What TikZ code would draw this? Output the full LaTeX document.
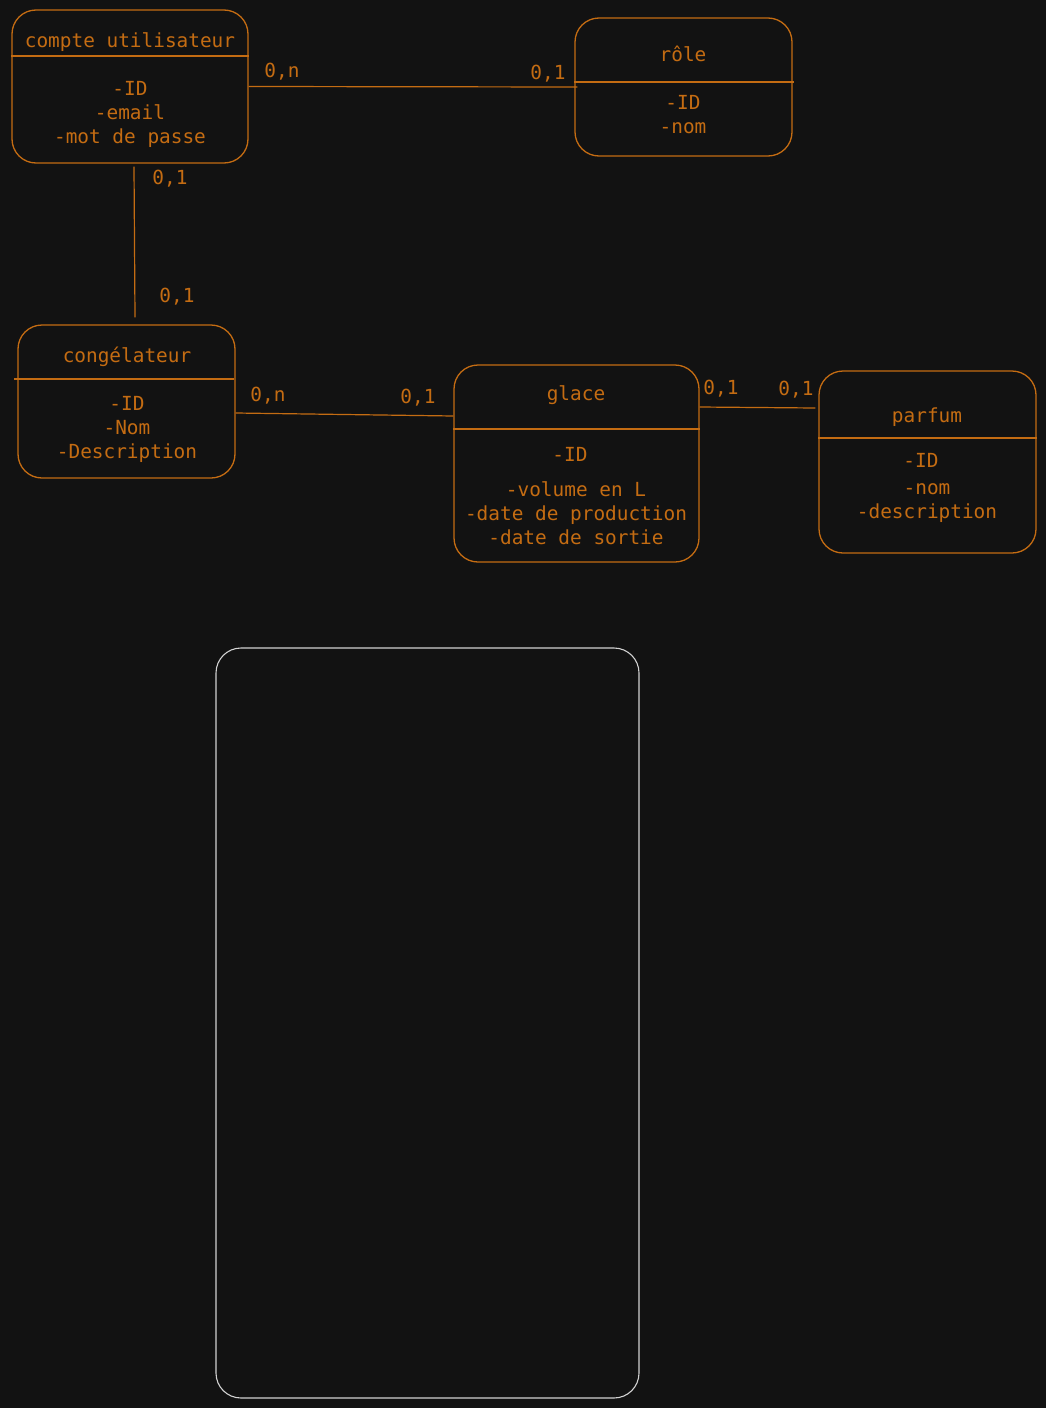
\documentclass[tikz,border=0pt]{standalone}
\usepackage{fontspec}
\setmonofont{DejaVu Sans Mono}
\usetikzlibrary{positioning}
\definecolor{bgdark}{HTML}{121212}
\definecolor{ember}{HTML}{C46C12}
\definecolor{pale}{HTML}{D2D2D2}

\begin{document}
\begin{tikzpicture}[x=1pt, y=-1pt, line width=1.3pt,
  entity/.style={draw=ember, rounded corners=24pt, inner sep=0pt},
  etext/.style={text=ember, font=\ttfamily\fontsize{19.4}{24}\selectfont, align=center, inner sep=0pt, yshift=-2pt},
  card/.style={etext},
  link/.style={draw=ember, line width=1.2pt},
  divider/.style={draw=ember, line width=1.8pt}]
\fill[bgdark] (0,0) rectangle (1046,1408);
\useasboundingbox (0,0) rectangle (1046,1408);
% -- entities --
\node[entity, minimum width=236pt, minimum height=153pt] (cu) at (130,86.5) {};
\node[entity, minimum width=217pt, minimum height=138pt] (role) at (683.5,87) {};
\node[entity, minimum width=217pt, minimum height=153pt] (cong) at (126.5,401.5) {};
\node[entity, minimum width=245pt, minimum height=197pt] (glace) at (576.5,463.5) {};
\node[entity, minimum width=217pt, minimum height=182pt] (parfum) at (927.5,462) {};
\draw[divider] (cu.west |- 0,56) -- (cu.east |- 0,56);
\draw[divider] (role.west |- 0,82) -- ([xshift=1pt]role.east |- 0,82);
\draw[divider] ([xshift=-3pt]cong.west |- 0,379) -- ([xshift=-2pt]cong.east |- 0,379);
\draw[divider] (glace.west |- 0,429) -- (glace.east |- 0,429);
\draw[divider] (parfum.west |- 0,438) -- (parfum.east |- 0,438);
% -- titles and attributes --
\node[etext] (cu-t) at (130,40) {compte utilisateur};
\node[etext] (cu-a) at (130,112) {-ID\\-email\\-mot de passe};
\node[etext] (role-t) at (683,52) {rôle};
\node[etext] (role-a) at (683,113) {-ID\\-nom};
\node[etext] (cong-t) at (127,355) {congélateur};
\node[etext] (cong-a) at (127,427) {-ID\\-Nom\\-Description};
\node[etext] (glace-t) at (576,393) {glace};
\node[etext] (glace-id) at (570,452) {-ID};
\node[etext] (glace-a) at (576,511) {-volume en L\\-date de production\\-date de sortie};
\node[etext] (parfum-t) at (927,415) {parfum};
\node[etext] (parfum-id) at (921,458) {-ID};
\node[etext] (parfum-a) at (927,501) {-nom\\-description};
% -- links --
\draw[link] (cu.east) -- ([xshift=3pt]role.west);
\draw[link] ([xshift=4pt,yshift=-3pt]cu.south) -- ([xshift=8.5pt,yshift=7pt]cong.north);
\draw[link] ([yshift=-11.5pt]cong.east) -- ([yshift=47.5pt]glace.west);
\draw[link] ([yshift=56.5pt]glace.east) -- ([xshift=-3pt,yshift=54pt]parfum.west);
\node[card] (c1) at (282,70) {0,n};
\node[card] (c2) at (548,72) {0,1};
\node[card] (c3) at (170,177) {0,1};
\node[card] (c4) at (177,295) {0,1};
\node[card] (c5) at (268,394) {0,n};
\node[card] (c6) at (418,396) {0,1};
\node[card] (c7) at (721,387) {0,1};
\node[card] (c8) at (796,388) {0,1};
% -- empty frame --
\node[draw=pale, rounded corners=25pt, line width=1.1pt, minimum width=423pt, minimum height=750pt] (frame) at (427.5,1023) {};
\end{tikzpicture}
\end{document}
